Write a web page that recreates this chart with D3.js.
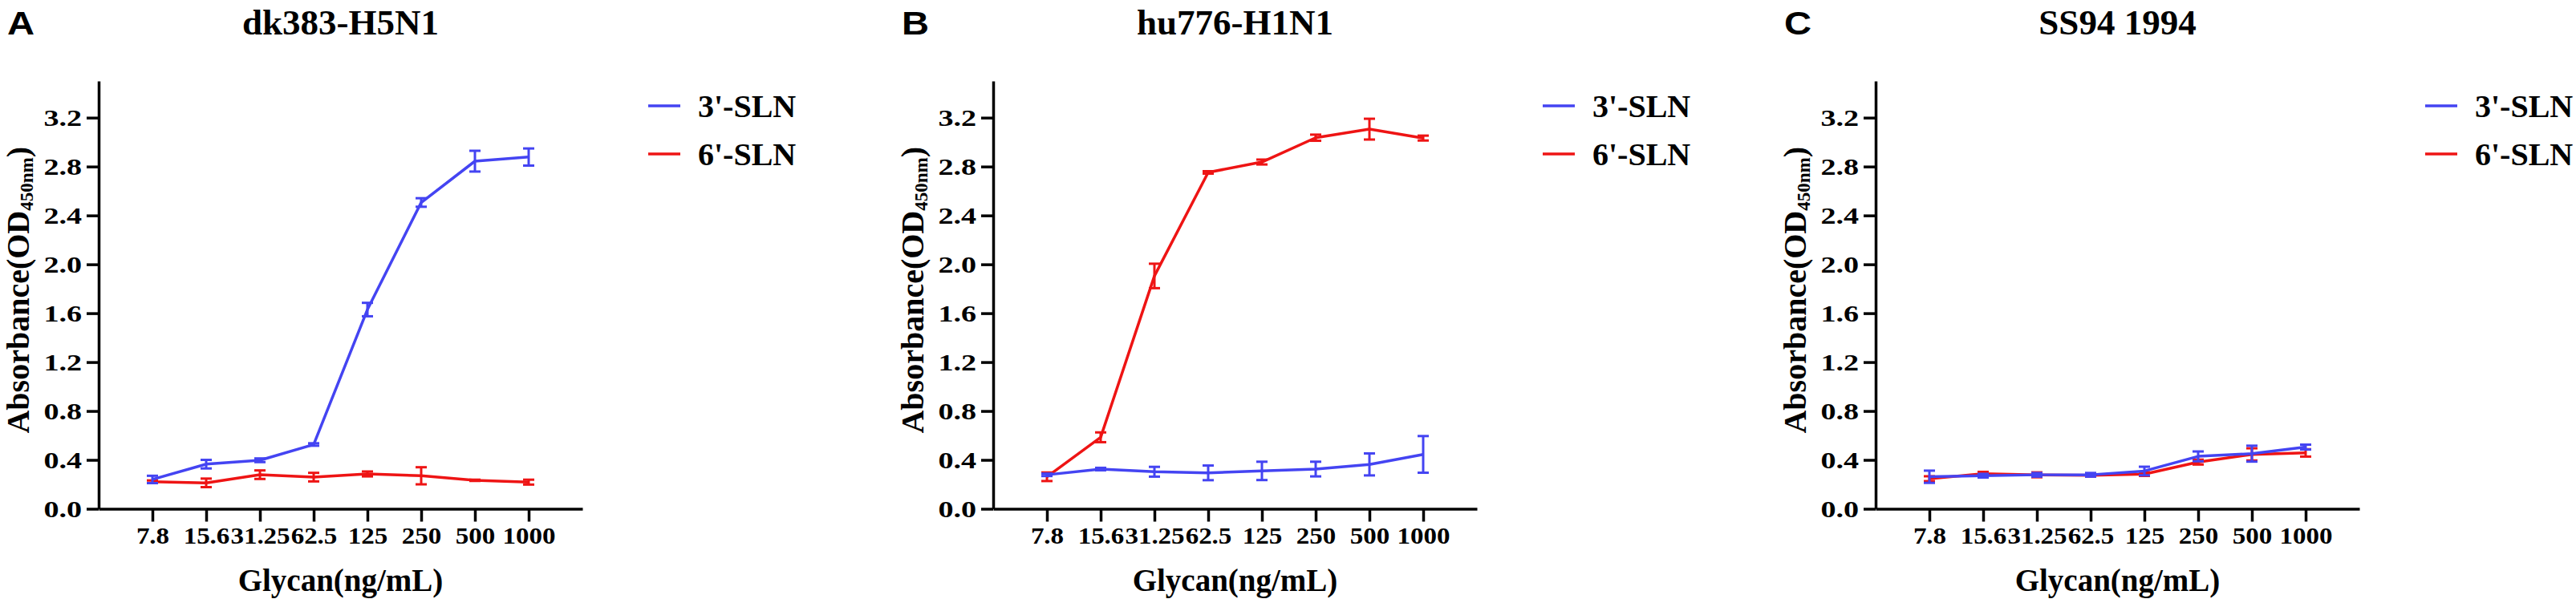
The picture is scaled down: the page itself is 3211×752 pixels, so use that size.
<!DOCTYPE html>
<html>
<head>
<meta charset="utf-8">
<script src="https://cdn.jsdelivr.net/npm/d3@7"></script>
<style>
  html, body { margin: 0; padding: 0; background: #fff; }
  svg { display: block; }
  text { font-family: "Liberation Serif", "Times New Roman", serif; font-weight: bold; fill: #000; }
  text.letter { font-family: "Liberation Sans", Arial, sans-serif; }
</style>
</head>
<body>
<script>
// ---- data ----
const categories = ["7.8", "15.6", "31.25", "62.5", "125", "250", "500", "1000"];
const seriesNames = ["3'-SLN", "6'-SLN"];
const yTicks = [0.0, 0.4, 0.8, 1.2, 1.6, 2.0, 2.4, 2.8, 3.2];

const panelLetters = ["A", "B", "C"];
const panelTitles = ["dk383-H5N1", "hu776-H1N1", "SS94 1994"];

const a3 = [0.240, 0.365, 0.397, 0.526, 1.630, 2.506, 2.844, 2.878];
const a3err = [0.030, 0.035, 0.015, 0.010, 0.055, 0.035, 0.085, 0.070];
const a6 = [0.222, 0.212, 0.279, 0.259, 0.285, 0.270, 0.233, 0.218];
const a6err = [0.010, 0.035, 0.035, 0.035, 0.020, 0.070, 0.005, 0.020];

const b3 = [0.278, 0.325, 0.303, 0.294, 0.310, 0.325, 0.363, 0.445];
const b3err = [0.010, 0.010, 0.040, 0.060, 0.075, 0.060, 0.090, 0.150];
const b6 = [0.262, 0.585, 1.905, 2.752, 2.837, 3.036, 3.106, 3.033];
const b6err = [0.035, 0.040, 0.100, 0.010, 0.020, 0.025, 0.085, 0.020];

const c3 = [0.262, 0.271, 0.278, 0.278, 0.309, 0.429, 0.451, 0.505];
const c3err = [0.050, 0.015, 0.015, 0.015, 0.035, 0.040, 0.065, 0.020];
const c6 = [0.246, 0.287, 0.278, 0.274, 0.284, 0.382, 0.445, 0.457];
const c6err = [0.020, 0.015, 0.020, 0.010, 0.015, 0.020, 0.050, 0.030];

const panelData = [
  { s3: a3, e3: a3err, s6: a6, e6: a6err },
  { s3: b3, e3: b3err, s6: b6, e6: b6err },
  { s3: c3, e3: c3err, s6: c6, e6: c6err }
];

// ---- layout ----
const W = 3211, H = 752;
const axisX = [123, 1238, 2338];
const plotW = 603;
const yTop = 101, yBottom = 634.5;
const colors = { "3'-SLN": "#4444F2", "6'-SLN": "#EE1414" };

const svg = d3.select("body").append("svg")
  .attr("width", W).attr("height", H)
  .attr("viewBox", `0 0 ${W} ${H}`);

const y = d3.scaleLinear().domain([0, 3.5]).range([yBottom, yTop]);

panelData.forEach((pd, i) => {
  const x0 = axisX[i];
  const g = svg.append("g");
  const x = d3.scalePoint().domain(categories).range([x0, x0 + plotW]).padding(1);

  // panel letter & title
  g.append("text").attr("class", "letter")
    .attr("transform", `translate(${x0 - 114},43) scale(1.15,1)`)
    .attr("font-size", 41).text(panelLetters[i]);
  g.append("text")
    .attr("x", x0 + plotW / 2).attr("y", 43)
    .attr("text-anchor", "middle")
    .attr("font-size", 45).text(panelTitles[i]);

  // y axis
  const yAxis = d3.axisLeft(y).tickValues(yTicks)
    .tickFormat(d3.format(".1f")).tickSize(15).tickSizeOuter(0).tickPadding(6);
  const ya = g.append("g").attr("transform", `translate(${x0},0)`).call(yAxis);
  ya.attr("font-size", null).attr("font-family", null);
  ya.select(".domain").attr("stroke", "#000").attr("stroke-width", 3.5);
  ya.selectAll(".tick line").attr("stroke", "#000").attr("stroke-width", 3.5);
  ya.selectAll(".tick text")
    .attr("x", 0)
    .attr("transform", "translate(-21,0) scale(1.27,1)")
    .attr("font-size", 30).attr("fill", "#000");

  // x axis
  const xAxis = d3.axisBottom(x).tickSize(16).tickSizeOuter(0).tickPadding(6);
  const xa = g.append("g").attr("transform", `translate(0,${yBottom})`).call(xAxis);
  xa.attr("font-size", null).attr("font-family", null);
  xa.select(".domain").attr("stroke", "#000").attr("stroke-width", 3.5);
  xa.selectAll(".tick line").attr("stroke", "#000").attr("stroke-width", 3.5);
  xa.selectAll(".tick text")
    .attr("transform", "scale(1.1,1)")
    .attr("font-size", 30).attr("fill", "#000");

  // axis titles
  g.append("text")
    .attr("x", x0 + plotW / 2).attr("y", 737)
    .attr("text-anchor", "middle")
    .attr("font-size", 39).text("Glycan(ng/mL)");

  const yl = g.append("text")
    .attr("transform", `translate(${x0 - 87},${(yTop + yBottom) / 2 - 6}) rotate(-90)`)
    .attr("text-anchor", "middle")
    .attr("font-size", 40);
  yl.append("tspan").text("Absorbance(OD");
  yl.append("tspan").attr("font-size", 23).attr("dy", 5).text("450nm");
  yl.append("tspan").attr("dy", -5).text(")");

  // series
  const series = [
    { name: "6'-SLN", vals: pd.s6, errs: pd.e6 },
    { name: "3'-SLN", vals: pd.s3, errs: pd.e3 }
  ];
  const line = d3.line().x((d, j) => x(categories[j])).y(d => y(d));
  series.forEach(s => {
    const col = colors[s.name];
    const sg = g.append("g");
    sg.append("path").datum(s.vals)
      .attr("d", line).attr("fill", "none")
      .attr("stroke", col).attr("stroke-width", 3.5)
      .attr("stroke-linejoin", "round");
    const eb = sg.selectAll("g.eb").data(s.vals.map((v, j) => ({ v, e: s.errs[j], c: categories[j] })))
      .enter().append("g");
    eb.append("line")
      .attr("x1", d => x(d.c)).attr("x2", d => x(d.c))
      .attr("y1", d => y(d.v - d.e)).attr("y2", d => y(d.v + d.e))
      .attr("stroke", col).attr("stroke-width", 3);
    eb.append("line")
      .attr("x1", d => x(d.c) - 7).attr("x2", d => x(d.c) + 7)
      .attr("y1", d => y(d.v + d.e)).attr("y2", d => y(d.v + d.e))
      .attr("stroke", col).attr("stroke-width", 3);
    eb.append("line")
      .attr("x1", d => x(d.c) - 7).attr("x2", d => x(d.c) + 7)
      .attr("y1", d => y(d.v - d.e)).attr("y2", d => y(d.v - d.e))
      .attr("stroke", col).attr("stroke-width", 3);
  });

  // legend
  seriesNames.forEach((n, k) => {
    const ly = 132 + k * 60;
    g.append("line")
      .attr("x1", x0 + 685).attr("x2", x0 + 725)
      .attr("y1", ly).attr("y2", ly)
      .attr("stroke", colors[n]).attr("stroke-width", 3.5);
    g.append("text")
      .attr("x", x0 + 747).attr("y", ly + 14)
      .attr("font-size", 40).text(n);
  });
});
</script>
</body>
</html>
